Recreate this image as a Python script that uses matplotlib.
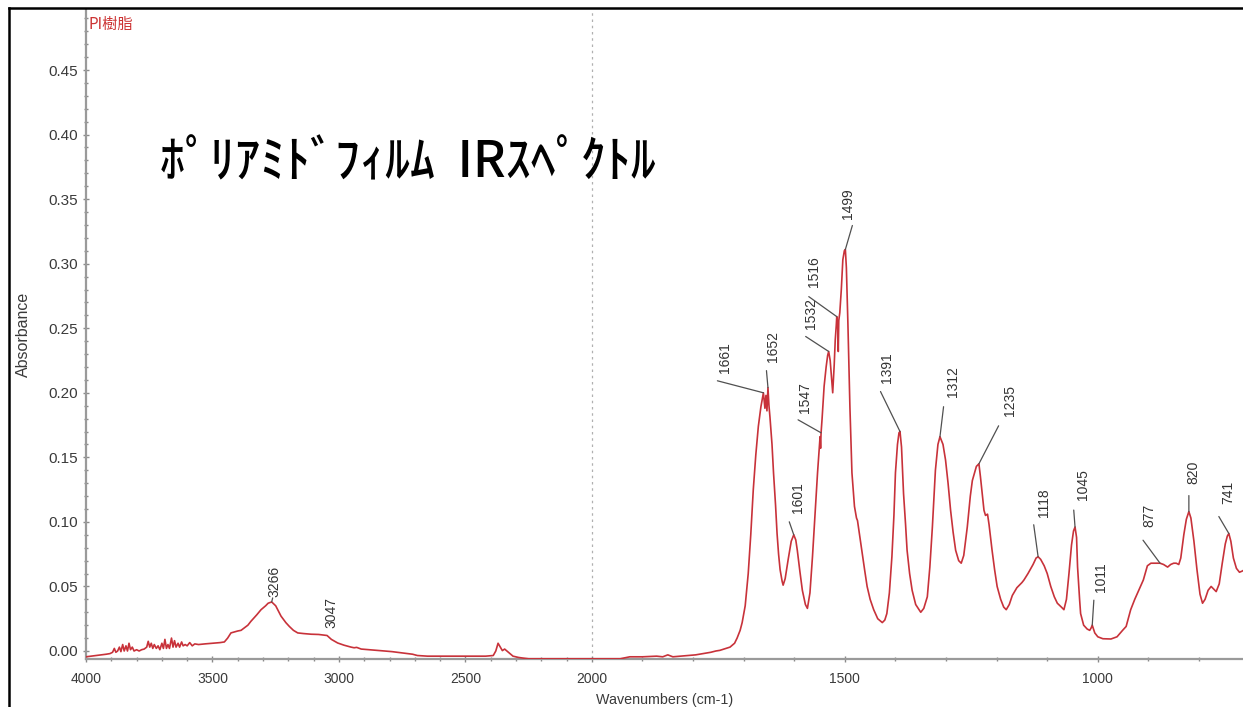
import numpy as np
import matplotlib
matplotlib.use("Agg")
import matplotlib.pyplot as plt
from matplotlib.lines import Line2D
from matplotlib.ticker import FixedLocator, FuncFormatter

# ---- spectrum data (wavenumber in cm-1, absorbance) ----
wavenumber = [
    4000, 3960, 3920, 3905, 3895, 3888, 3882, 3875, 3868, 3862, 3855, 3849,
    3842, 3836, 3830, 3824, 3817, 3810, 3800, 3790, 3780, 3770, 3760, 3754,
    3748, 3742, 3736, 3730, 3722, 3715, 3708, 3700, 3694, 3688, 3682, 3676,
    3670, 3662, 3656, 3650, 3644, 3636, 3630, 3622, 3616, 3608, 3600, 3590,
    3580, 3570, 3555, 3530, 3500, 3470, 3453, 3440, 3427, 3400, 3387, 3360,
    3348, 3325, 3308, 3290, 3280, 3266, 3250, 3229, 3210, 3196, 3180, 3163,
    3140, 3110, 3080, 3047, 3030, 3005, 2980, 2952, 2940, 2930, 2912, 2880,
    2850, 2820, 2790, 2750, 2709, 2690, 2650, 2575, 2500, 2420, 2390, 2380,
    2371, 2362, 2354, 2345, 2330, 2312, 2290, 2272, 2250, 2100, 2000, 1944,
    1925, 1900, 1872, 1860, 1850, 1840, 1826, 1810, 1795, 1780, 1765, 1755,
    1747, 1735, 1727, 1718, 1713, 1707, 1703, 1697, 1691, 1686, 1681, 1676,
    1671, 1666, 1661, 1658, 1656, 1654, 1652, 1650, 1648, 1644, 1641, 1637,
    1634, 1631, 1628, 1624, 1622, 1618, 1612, 1606, 1601, 1597, 1594, 1589,
    1584, 1578, 1574, 1569, 1564, 1559, 1554, 1550, 1549, 1548, 1547, 1545,
    1541, 1537, 1534, 1532, 1529, 1527, 1524, 1521, 1519, 1517, 1516, 1514,
    1513, 1512, 1510, 1507, 1504, 1501, 1499, 1497, 1494, 1490, 1486, 1481,
    1477, 1475, 1471, 1466, 1461, 1456, 1450, 1443, 1435, 1426, 1421, 1417,
    1412, 1407, 1403, 1400, 1396, 1393, 1391, 1388, 1384, 1380, 1377, 1372,
    1367, 1360, 1350, 1344, 1337, 1332, 1327, 1321, 1316, 1312, 1306, 1301,
    1296, 1291, 1286, 1281, 1275, 1270, 1265, 1258, 1252, 1248, 1240, 1235,
    1232, 1228, 1225, 1222, 1218, 1215, 1209, 1204, 1199, 1192, 1186, 1181,
    1175, 1169, 1160, 1150, 1146, 1138, 1128, 1122, 1118, 1113, 1106, 1100,
    1093, 1086, 1080, 1072, 1067, 1062, 1057, 1052, 1048, 1045, 1042, 1040,
    1036, 1034, 1028, 1021, 1016, 1013, 1011, 1006, 1000, 990, 974, 962,
    951, 944, 935, 927, 919, 910, 902, 895, 886, 877, 870, 862,
    856, 850, 845, 840, 836, 830, 825, 820, 816, 810, 804, 798,
    793, 788, 782, 776, 771, 766, 760, 754, 748, 744, 741, 737,
    732, 726, 720, 714, 710,
]
absorbance = [
    -0.0045, -0.0035, -0.0025, -0.002, -0.001, 0.002, -0.001, 0.000, 0.003, -0.0005, 0.005, 0.000,
    0.004, 0.000, 0.006, 0.001, 0.003, 0.000, 0.001, 0.000, 0.001, 0.0015, 0.003, 0.0075,
    0.003, 0.006, 0.002, 0.005, 0.002, 0.004, 0.001, 0.006, 0.002, 0.009, 0.002, 0.005,
    0.002, 0.010, 0.003, 0.008, 0.003, 0.006, 0.003, 0.007, 0.004, 0.005, 0.004, 0.0065,
    0.004, 0.0055, 0.005, 0.0055, 0.006, 0.0065, 0.007, 0.010, 0.014, 0.0155, 0.016, 0.020,
    0.023, 0.028, 0.032, 0.035, 0.037, 0.038, 0.035, 0.027, 0.022, 0.019, 0.016, 0.014,
    0.0135, 0.013, 0.0128, 0.012, 0.009, 0.0062, 0.0045, 0.003, 0.0025, 0.0028, 0.0015, 0.001,
    0.0005, 0.000, -0.0005, -0.0015, -0.0025, -0.0035, -0.004, -0.004, -0.004, -0.004, -0.0035, 0.000,
    0.006, 0.003, 0.0003, 0.0015, -0.001, -0.004, -0.005, -0.0055, -0.006, -0.006, -0.006, -0.006,
    -0.0045, -0.0045, -0.004, -0.0045, -0.003, -0.0045, -0.004, -0.0035, -0.003, -0.002, -0.001, 0.000,
    0.0005, 0.002, 0.003, 0.006, 0.010, 0.016, 0.022, 0.035, 0.060, 0.090, 0.125, 0.152,
    0.174, 0.189, 0.200, 0.188, 0.198, 0.186, 0.204, 0.190, 0.181, 0.160, 0.138, 0.113,
    0.091, 0.075, 0.063, 0.054, 0.051, 0.056, 0.071, 0.085, 0.090, 0.086, 0.078, 0.062,
    0.047, 0.036, 0.033, 0.045, 0.073, 0.105, 0.138, 0.160, 0.166, 0.157, 0.169, 0.180,
    0.205, 0.220, 0.229, 0.232, 0.225, 0.215, 0.200, 0.222, 0.241, 0.252, 0.259, 0.250,
    0.232, 0.256, 0.262, 0.280, 0.303, 0.310, 0.311, 0.297, 0.254, 0.189, 0.138, 0.112,
    0.103, 0.101, 0.090, 0.076, 0.063, 0.050, 0.040, 0.032, 0.025, 0.022, 0.024, 0.029,
    0.045, 0.073, 0.105, 0.138, 0.160, 0.169, 0.170, 0.158, 0.122, 0.098, 0.078, 0.060,
    0.047, 0.036, 0.030, 0.033, 0.042, 0.065, 0.096, 0.140, 0.160, 0.166, 0.160, 0.148,
    0.130, 0.109, 0.092, 0.078, 0.070, 0.068, 0.074, 0.096, 0.120, 0.132, 0.143, 0.145,
    0.135, 0.120, 0.109, 0.105, 0.106, 0.098, 0.078, 0.063, 0.050, 0.040, 0.034, 0.032,
    0.036, 0.043, 0.049, 0.053, 0.055, 0.060, 0.067, 0.072, 0.073, 0.071, 0.066, 0.060,
    0.050, 0.042, 0.037, 0.034, 0.032, 0.040, 0.060, 0.082, 0.093, 0.096, 0.088, 0.065,
    0.040, 0.029, 0.020, 0.017, 0.016, 0.018, 0.020, 0.014, 0.011, 0.0095, 0.0093, 0.011,
    0.016, 0.019, 0.032, 0.040, 0.047, 0.055, 0.066, 0.068, 0.068, 0.068, 0.067, 0.065,
    0.067, 0.068, 0.068, 0.067, 0.072, 0.090, 0.102, 0.108, 0.103, 0.085, 0.063, 0.044,
    0.037, 0.040, 0.047, 0.050, 0.048, 0.046, 0.052, 0.068, 0.083, 0.089, 0.091, 0.085,
    0.072, 0.064, 0.061, 0.062, 0.063,
]

peak_positions = [3266, 3047, 1661, 1652, 1601, 1547, 1532, 1516, 1499,
                  1391, 1312, 1235, 1118, 1045, 1011, 877, 820, 741]

x_major = [4000, 3500, 3000, 2500, 2000, 1500, 1000]
y_major = [0.00, 0.05, 0.10, 0.15, 0.20, 0.25, 0.30, 0.35, 0.40, 0.45]

title_text = "ﾎﾟﾘｱﾐﾄﾞﾌｨﾙﾑ  IRｽﾍﾟｸﾄﾙ"
sample_text = "PI樹脂"

# leader-line end and label anchor, as pixel offsets from each peak
label_offsets = {
    3266: (1, 4, 3, 5),
    3047: (0, 0, 4, 8),
    1661: (-46, 12, -38, 20),
    1652: (-1.5, 17, 5.5, 26),
    1601: (-4.5, 13, 4.5, 22),
    1547: (-23, 13, -16, 20),
    1532: (-23, 15, -18, 22),
    1516: (-28, 20, -23, 30),
    1499: (7, 24, 3, 30),
    1391: (-19.5, 40, -12.5, 49),
    1312: (3.6, 30, 12.6, 40),
    1235: (19.7, 38, 30.7, 48),
    1118: (-4.4, 32, 5.6, 40),
    1045: (-1.3, 17, 7.7, 27),
    1011: (1.6, 25, 8.6, 33),
    877: (-17, 23, -11, 36),
    820: (0, 16, 5, 28),
    741: (-10, 17, -1, 30),
}


# split wavenumber axis: above 2000 cm-1 is compressed by a factor of two
def fwd(x):
    x = np.asarray(x, dtype=float)
    return np.where(x > 2000, 2000 + (x - 2000) / 2.0, x)


def inv(t):
    t = np.asarray(t, dtype=float)
    return np.where(t > 2000, 2000 + (t - 2000) * 2.0, t)


W, H = 1243, 707
fig = plt.figure(figsize=(W / 100, H / 100), dpi=100)
ax = fig.add_axes([86 / W, 1 - 659 / H, 1 - 86 / W, (659 - 10) / H])

ax.set_xscale("function", functions=(fwd, inv))
ax.set_xlim(4000, 713)
ax.set_ylim(-0.0062, 0.4965)

ax.plot(wavenumber, absorbance, color="#c8323a", lw=1.2, zorder=3)

ax.axvline(2000, color="#b0b0b0", lw=0.9, ls=(0, (2, 3)), zorder=1)

ax.xaxis.set_major_locator(FixedLocator(x_major))
ax.xaxis.set_minor_locator(FixedLocator([v for v in range(4000, 700, -100) if v not in x_major]))
ax.yaxis.set_major_locator(FixedLocator(y_major))
ax.yaxis.set_minor_locator(FixedLocator([round(v * 0.01, 2) for v in range(0, 50) if v % 5]))
ax.xaxis.set_major_formatter(FuncFormatter(lambda v, p: f"{v:.0f}"))
ax.yaxis.set_major_formatter(FuncFormatter(lambda v, p: f"{v:.2f}"))

ax.tick_params(which="major", direction="inout", length=5, width=1.0, color="#8a8a8a",
               labelcolor="#3a3a3a")
ax.tick_params(axis="x", which="major", pad=7, labelsize=10)
ax.tick_params(axis="y", which="major", pad=3, labelsize=11)
ax.tick_params(which="minor", direction="inout", length=2.5, width=1.0, color="#8a8a8a")
for lab in ax.get_xticklabels() + ax.get_yticklabels():
    lab.set_fontfamily("Liberation Sans")

for side in ("top", "right"):
    ax.spines[side].set_visible(False)
for side in ("left", "bottom"):
    ax.spines[side].set_color("#9a9a9a")
    ax.spines[side].set_linewidth(1.6)

ax.set_xlabel("Wavenumbers (cm-1)", family="Liberation Sans", fontsize=10.3, color="#3a3a3a", labelpad=5)
ax.set_ylabel("Absorbance", family="Liberation Sans", fontsize=11.5, color="#3a3a3a", labelpad=13)

# peak annotations
wn_rev = np.array(wavenumber[::-1], dtype=float)
ab_rev = np.array(absorbance[::-1], dtype=float)
for wn in peak_positions:
    a = float(np.interp(wn, wn_rev, ab_rev))
    ldx, ldy, tdx, tdy = label_offsets[wn]
    if ldx or ldy:
        ax.annotate("", xy=(wn, a), xytext=(ldx, ldy), textcoords="offset pixels",
                    arrowprops=dict(arrowstyle="-", color="#505050", lw=0.9,
                                    shrinkA=0, shrinkB=0), zorder=4)
    ax.annotate(str(wn), xy=(wn, a), xytext=(tdx, tdy), textcoords="offset pixels",
                rotation=90, ha="center", va="bottom", fontsize=10,
                family="Liberation Sans", color="#333333", zorder=4)

# title and sample name
fig.text(160 / W, 1 - 163 / H, title_text, ha="left", va="center",
         family=["Noto Sans CJK JP", "DejaVu Sans"], fontsize=36, weight="medium", color="black")
fig.text(88 / W, 1 - 24 / H, sample_text, ha="left", va="center",
         family=["Noto Sans CJK JP", "DejaVu Sans"], fontsize=11, color="#cc3333")

# outer frame
fig.add_artist(Line2D([8.5 / W, 8.5 / W], [0, 1 - 8 / H], transform=fig.transFigure,
                      color="black", lw=1.8))
fig.add_artist(Line2D([8.5 / W, 1], [1 - 8 / H, 1 - 8 / H], transform=fig.transFigure,
                      color="black", lw=1.8))

fig.savefig("out.png", dpi=100)
